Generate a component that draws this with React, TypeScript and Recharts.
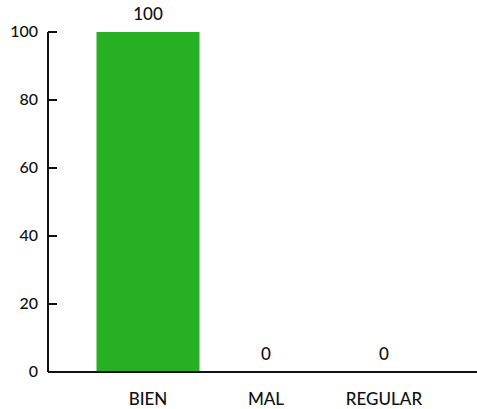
import React from 'react';
import { ComposedChart, Bar, Line, XAxis, YAxis, LabelList } from 'recharts';

const categories = ['BIEN', 'MAL', 'REGULAR'];
const values = [100, 0, 0];
const yTicks = [0, 20, 40, 60, 80, 100];

const data = categories.map((c, i) => ({ name: c, value: values[i] }));

const FONT = 'Lato, "Open Sans", sans-serif';

const YTick = (props: any) => {
  const { x, y, payload } = props;
  const ax = x + 10;
  return (
    <g>
      <line x1={ax} y1={y} x2={ax + 9} y2={y} stroke="#111" strokeWidth={2} />
      <text x={x} y={y} dy={5} textAnchor="end" fontSize={16} fontWeight={500} fill="#111" fontFamily={FONT}>
        {payload.value}
      </text>
    </g>
  );
};

export default function App() {
  return (
    <div style={{ position: 'absolute', left: 0, top: 0, width: 477, height: 409, background: '#fff' }}>
      <ComposedChart
        width={477}
        height={409}
        data={data}
        margin={{ top: 32, right: 0, bottom: 0, left: 0 }}
        barCategoryGap={7.5}
      >
        <XAxis
          dataKey="name"
          height={37}
          padding={{ left: 41, right: 34 }}
          tickLine={false}
          axisLine={{ stroke: '#111', strokeWidth: 2 }}
          tick={{ fill: '#111', fontSize: 17, fontWeight: 500, fontFamily: FONT }}
          tickMargin={15}
        />
        <YAxis
          width={48}
          domain={[0, 100]}
          ticks={yTicks}
          tickLine={false}
          tickSize={0}
          tickMargin={10}
          axisLine={{ stroke: '#111', strokeWidth: 2 }}
          tick={<YTick />}
        />
        <Bar dataKey="value" fill="#27b024" isAnimationActive={false} />
        <Line dataKey="value" stroke="none" dot={false} activeDot={false} isAnimationActive={false}>
          <LabelList dataKey="value" position="top" offset={12} fill="#111" fontSize={17} fontWeight={500} fontFamily={FONT} />
        </Line>
      </ComposedChart>
    </div>
  );
}
